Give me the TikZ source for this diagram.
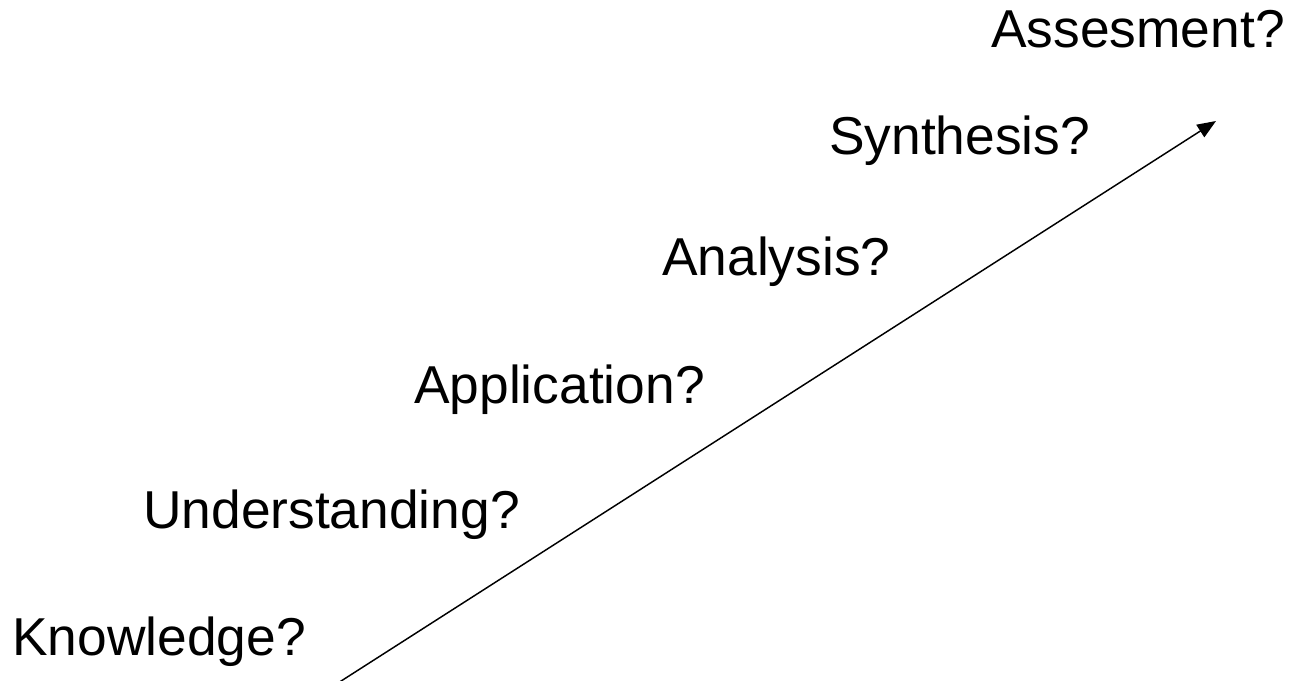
\documentclass[tikz,border=0pt]{standalone}
\usepackage{fontspec}
\setmainfont{Liberation Sans}
\usetikzlibrary{arrows.meta}
\begin{document}
\begin{tikzpicture}[x=0.75pt,y=-0.75pt,
  lbl/.style={anchor=base west,inner sep=0pt,font=\fontsize{40}{48}\selectfont},
  conn/.style={line width=1.1pt,-{Triangle[length=14pt,width=11pt]}}]
\useasboundingbox (0,0) rectangle (1289,681);
\node[lbl] (k) at (12,655) {Knowledge?};
\node[lbl] (u) at (143,528) {Understanding?};
\node[lbl] (ap) at (414,403) {Application?};
\node[lbl] (an) at (662,275) {Analysis?};
\node[lbl] (s) at (829,155) {Synthesis?};
\node[lbl] (as) at (991,48) {Assesment?};
\coordinate (start) at (338,683);
\coordinate (tip) at (1216,121);
\draw[conn] (start) -- (tip);
\end{tikzpicture}
\end{document}
